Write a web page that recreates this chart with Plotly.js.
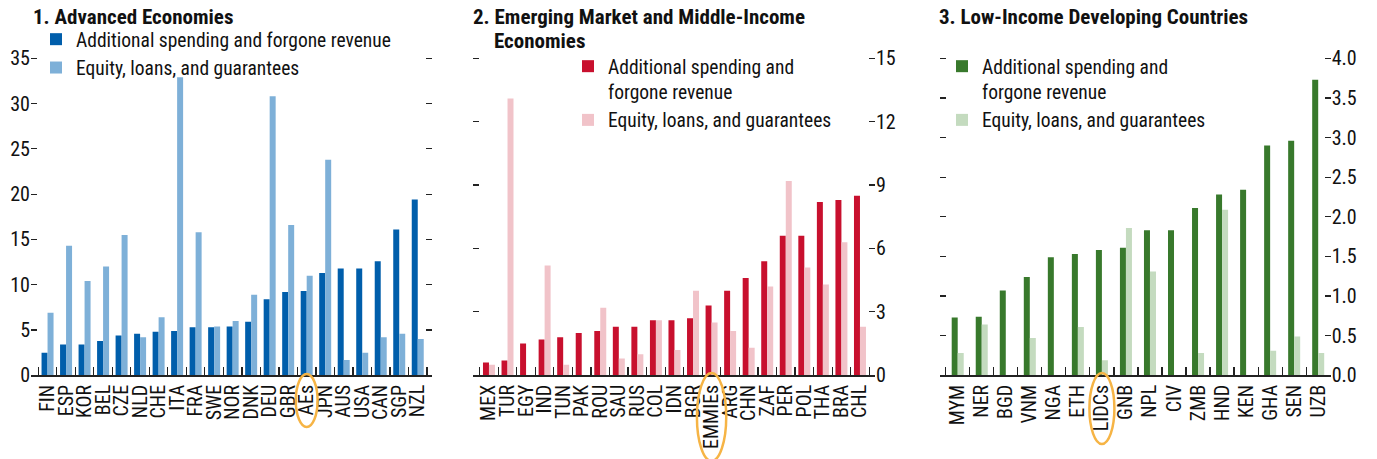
<!DOCTYPE html>
<html>
<head>
<meta charset="utf-8">
<script src="https://cdn.plot.ly/plotly-3.0.1.min.js"></script>
<style>html,body{margin:0;padding:0;background:#fff;}#chart{width:1377px;height:459px;}</style>
</head>
<body>
<div id="chart"></div>
<script>
// ---------- data ----------
const aeCats = ['FIN','ESP','KOR','BEL','CZE','NLD','CHE','ITA','FRA','SWE','NOR','DNK','DEU','GBR','AEs','JPN','AUS','USA','CAN','SGP','NZL'];
const aeSpend = [2.5,3.4,3.4,3.8,4.4,4.6,4.8,4.9,5.3,5.3,5.4,5.9,8.4,9.2,9.3,11.3,11.8,11.8,12.6,16.1,19.4];
const aeEquity = [6.9,14.3,10.4,12.0,15.5,4.2,6.4,32.9,15.8,5.4,6.0,8.9,30.8,16.6,11.0,23.8,1.7,2.5,4.2,4.6,4.0];

const emCats = ['MEX','TUR','EGY','IND','TUN','PAK','ROU','SAU','RUS','COL','IDN','BGR','EMMIEs','ARG','CHN','ZAF','PER','POL','THA','BRA','CHL'];
const emSpend = [0.6,0.7,1.5,1.7,1.8,2.0,2.1,2.3,2.3,2.6,2.6,2.7,3.3,4.0,4.6,5.4,6.6,6.6,8.2,8.3,8.5];
const emEquity = [0.5,13.1,null,5.2,0.5,null,3.2,0.8,1.0,2.6,1.2,4.0,2.5,2.1,1.3,4.2,9.2,5.1,4.3,6.3,2.3];

const licCats = ['MYM','NER','BGD','VNM','NGA','ETH','LIDCs','GNB','NPL','CIV','ZMB','HND','KEN','GHA','SEN','UZB'];
const licSpend = [0.73,0.74,1.07,1.24,1.49,1.53,1.58,1.61,1.83,1.83,2.11,2.28,2.34,2.90,2.96,3.73];
const licEquity = [0.28,0.64,null,0.47,null,0.61,0.19,1.86,1.31,null,0.28,2.09,null,0.31,0.49,0.28];

const yMax = [35, 15, 4];
const yStep = [5, 3, 0.5];

const panelTitles = ['1. Advanced Economies', '2. Emerging Market and Middle-Income', 'Economies', '3. Low-Income Developing Countries'];
const nameSpend1 = 'Additional spending and forgone revenue';
const nameSpend2 = 'Additional spending and<br>forgone revenue';
const nameEquity = 'Equity, loans, and guarantees';
const aggregates = ['AEs', 'EMMIEs', 'LIDCs'];

// ---------- style ----------
const W = 1377, H = 459;
const FONT = "'Roboto Condensed', 'Open Sans Condensed', 'Liberation Sans Narrow', sans-serif";
const FS = 20, LFS = 19.5, TTL = 21;
const px = v => v / W;
const py = v => 1 - v / H;
const EXT = 0.006;                       // small headroom so the top tick is drawn
const yBot = 375.3, yTopVal = 58.3;
const yDom = [py(yBot), py(yTopVal - (yBot - yTopVal) * EXT)];

function bar(x, y, color, name, xa, ya, w, off, lg) {
  return {type: 'bar', x: x, y: y, name: name, xaxis: xa, yaxis: ya, width: w, offset: off,
          marker: {color: color, line: {width: 0}}, legend: lg, showlegend: true, hoverinfo: 'x+y'};
}
const w1 = 0.324, w2 = 0.323, w3 = 0.25;
const data = [
  bar(aeCats, aeSpend, '#005EAB', nameSpend1, 'x', 'y', w1, -w1, 'legend'),
  bar(aeCats, aeEquity, '#7EB0D8', nameEquity, 'x', 'y', w1, 0, 'legend'),
  bar(emCats, emSpend, '#C8102E', nameSpend2, 'x2', 'y2', w2, -w2, 'legend2'),
  bar(emCats, emEquity, '#F1C3C9', nameEquity, 'x2', 'y2', w2, 0, 'legend2'),
  bar(licCats, licSpend, '#38792C', nameSpend2, 'x3', 'y3', w3, -w3, 'legend3'),
  bar(licCats, licEquity, '#C4DBBF', nameEquity, 'x3', 'y3', w3, 0, 'legend3')
];

function xax(dom, range, anchor) {
  return {domain: dom, range: range, anchor: anchor, type: 'category', showgrid: false, zeroline: false,
          showline: true, linecolor: '#222', linewidth: 1.5, ticks: 'inside', ticklen: 8, tickwidth: 1.2,
          tickcolor: '#222', tickson: 'boundaries', tickmode: 'linear', tick0: 0, dtick: 1, tickangle: -90,
          automargin: false, fixedrange: true,
          tickfont: {family: FONT, size: FS, color: '#111'}};
}
function yax(max, dtick, side, anchor, fmt) {
  return {domain: yDom, range: [0, max * (1 + EXT)], dtick: dtick, tick0: 0, side: side, anchor: anchor,
          showgrid: false, zeroline: false, showline: false, ticks: 'inside', ticklen: 6, tickwidth: 1.2,
          tickcolor: '#222', mirror: 'ticks', automargin: false, fixedrange: true, tickformat: fmt || '',
          tickfont: {family: FONT, size: FS, color: '#111'}};
}
function legend(x, ytop) {
  return {x: px(x), y: py(ytop), xanchor: 'left', yanchor: 'top', bgcolor: 'rgba(0,0,0,0)', borderwidth: 0,
          font: {family: FONT, size: LFS, color: '#111'}, valign: 'top', itemwidth: 30, tracegroupgap: 0,
          itemclick: false, itemdoubleclick: false};
}
function ellipse(xa, idx, hw, y0, y1) {
  return {type: 'circle', xref: xa, yref: 'paper', x0: idx - hw, x1: idx + hw, y0: py(y1), y1: py(y0),
          line: {color: '#F6B445', width: 2.5}, fillcolor: 'rgba(0,0,0,0)'};
}
function title(text, x, ytop) {
  return {text: '<b>' + text + '</b>', xref: 'paper', yref: 'paper', x: px(x), y: py(ytop), xanchor: 'left',
          yanchor: 'top', showarrow: false, font: {family: FONT, size: TTL, color: '#111'}};
}

const layout = {
  width: W, height: H, margin: {l: 0, r: 0, t: 0, b: 0}, paper_bgcolor: '#fff', plot_bgcolor: '#fff',
  barmode: 'overlay', showlegend: true, hovermode: false,
  font: {family: FONT, size: FS, color: '#111'},
  xaxis: xax([px(31), px(432)], [-0.894, 20.77], 'y'),
  yaxis: yax(yMax[0], yStep[0], 'left', 'x'),
  xaxis2: xax([px(472.7), px(875)], [-0.877, 20.81], 'y2'),
  yaxis2: yax(yMax[1], yStep[1], 'right', 'x2'),
  xaxis3: xax([px(940), px(1330.7)], [-0.737, 15.52], 'y3'),
  yaxis3: yax(yMax[2], yStep[2], 'right', 'x3', '.1f'),
  legend: legend(36, 20),
  legend2: legend(568, 47),
  legend3: legend(942, 47),
  annotations: [
    title(panelTitles[0], 31, 3),
    title(panelTitles[1], 471, 3),
    title(panelTitles[2], 492, 27),
    title(panelTitles[3], 937, 3)
  ],
  shapes: [
    ellipse('x', aeCats.indexOf(aggregates[0]), 0.59, 374, 427),
    ellipse('x2', emCats.indexOf(aggregates[1]), 0.79, 373, 461),
    ellipse('x3', licCats.indexOf(aggregates[2]), 0.52, 373, 444)
  ]
};

Plotly.newPlot('chart', data, layout, {displayModeBar: false, staticPlot: true});
</script>
</body>
</html>
